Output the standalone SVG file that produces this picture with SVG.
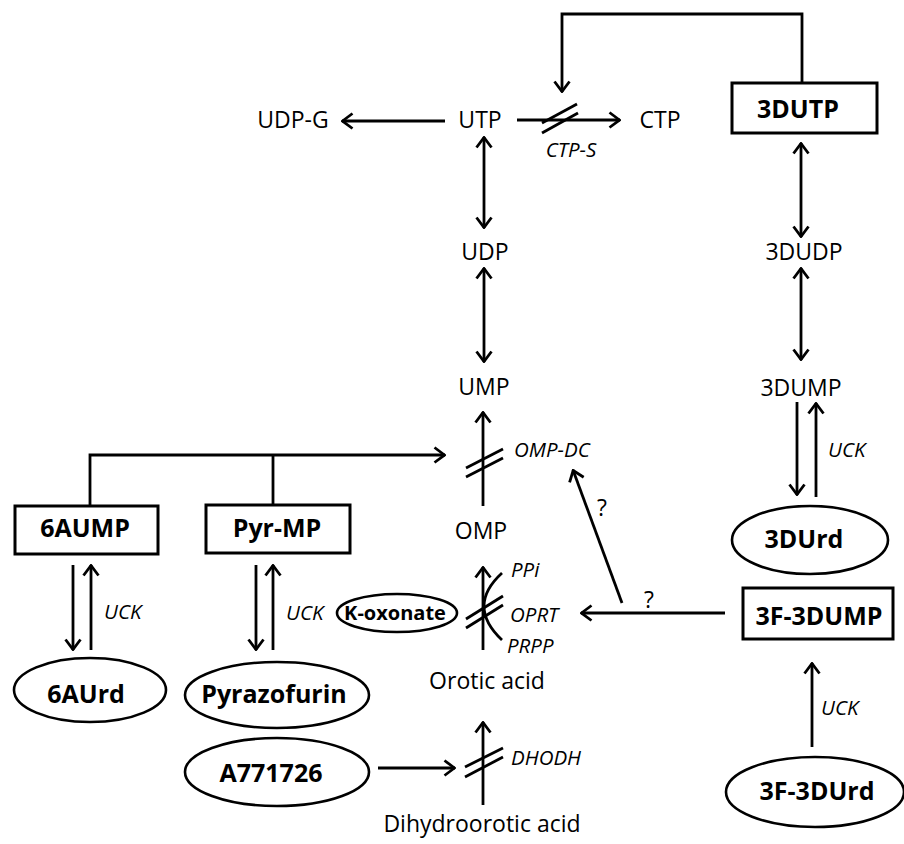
<svg xmlns="http://www.w3.org/2000/svg" width="904" height="844" viewBox="0 0 904 844">
<defs>
<marker id="ah" viewBox="0 0 13 18" refX="12" refY="9" markerWidth="13" markerHeight="18" orient="auto-start-reverse" markerUnits="userSpaceOnUse">
<path d="M1.5,1.5 L11.5,9 L1.5,16.5" fill="none" stroke="#000" stroke-width="2.8" stroke-linejoin="miter"/>
</marker>
</defs>
<style>
text{font-family:"Open Sans","Noto Sans","Liberation Sans",sans-serif;fill:#000}
.t{font-size:23px}
.b{font-size:25px;font-weight:bold}
.i{font-size:20.5px;font-style:italic}
.k{font-size:20px;font-weight:bold}
.m{text-anchor:middle}
.ln{fill:none;stroke:#000;stroke-width:2.8}
.ar{fill:none;stroke:#000;stroke-width:2.8;marker-end:url(#ah)}
.dar{fill:none;stroke:#000;stroke-width:2.8;marker-start:url(#ah);marker-end:url(#ah)}
.bx{fill:#fff;stroke:#000;stroke-width:3}
.el{fill:#fff;stroke:#000;stroke-width:2.6}
</style>
<rect width="904" height="844" fill="#fff"/>
<g id="connectors">
<path class="ar" d="M802,83 V14 H562 V92"/>
<line class="ar" x1="445" y1="121" x2="342" y2="121"/>
<line class="ar" x1="517" y1="120" x2="620" y2="120"/>
<line class="ln" x1="542" y1="123" x2="577" y2="104"/>
<line class="ln" x1="542" y1="133" x2="578" y2="113"/>
<line class="dar" x1="484" y1="137" x2="484" y2="228"/>
<line class="dar" x1="484" y1="268" x2="484" y2="362"/>
<line class="ar" x1="483" y1="506" x2="483" y2="412"/>
<line class="ln" x1="466" y1="468" x2="503" y2="449"/>
<line class="ln" x1="466" y1="477" x2="503" y2="458"/>
<path class="ar" d="M90,506 V455 H445"/>
<line class="ln" x1="273" y1="505" x2="273" y2="455"/>
<line class="ar" x1="73" y1="565" x2="73" y2="650"/>
<line class="ar" x1="91" y1="650" x2="91" y2="565"/>
<line class="ar" x1="256" y1="565" x2="256" y2="650"/>
<line class="ar" x1="273" y1="650" x2="273" y2="565"/>
<line class="ar" x1="483" y1="650" x2="483" y2="567"/>
<line class="ln" x1="466" y1="619" x2="503" y2="596"/>
<line class="ln" x1="466" y1="628" x2="503" y2="605"/>
<path class="ln" d="M502,573 Q466,606 502,640"/>
<line class="ar" x1="725" y1="613" x2="581" y2="613"/>
<line class="ar" x1="622" y1="603" x2="573" y2="470"/>
<line class="dar" x1="801" y1="143" x2="801" y2="237"/>
<line class="dar" x1="801" y1="268" x2="801" y2="360"/>
<line class="ar" x1="797" y1="402" x2="797" y2="495"/>
<line class="ar" x1="816" y1="497" x2="816" y2="403"/>
<line class="ar" x1="812" y1="747" x2="812" y2="663"/>
<line class="ar" x1="378" y1="768" x2="455" y2="768"/>
<line class="ln" x1="465" y1="767" x2="503" y2="748"/>
<line class="ln" x1="465" y1="777" x2="503" y2="757"/>
<line class="ar" x1="483" y1="805" x2="483" y2="722"/>
</g>
<g id="udpg"><text class="t m" x="293" y="128">UDP-G</text></g>
<g id="utp"><text class="t m" x="480" y="128">UTP</text></g>
<g id="ctp"><text class="t m" x="660" y="128">CTP</text></g>
<g id="ctps"><text class="i m" x="571" y="157">CTP-S</text></g>
<g id="n3dutp"><rect class="bx" x="732" y="83" width="145" height="50"/><text class="b m" x="798" y="118">3DUTP</text></g>
<g id="udp"><text class="t m" x="485" y="260">UDP</text></g>
<g id="n3dudp"><text class="t m" x="804" y="260">3DUDP</text></g>
<g id="ump"><text class="t m" x="484" y="395">UMP</text></g>
<g id="n3dump"><text class="t m" x="801" y="396">3DUMP</text></g>
<g id="ompdc"><text class="i" x="514" y="457">OMP-DC</text></g>
<g id="uck1"><text class="i" x="828" y="457">UCK</text></g>
<g id="n6aump"><rect class="bx" x="15" y="506" width="143" height="48"/><text class="b m" x="85" y="537">6AUMP</text></g>
<g id="pyrmp"><rect class="bx" x="206" y="505" width="144" height="48"/><text class="b m" x="277" y="537">Pyr-MP</text></g>
<g id="omp"><text class="t m" x="481" y="539">OMP</text></g>
<g id="n3durd"><ellipse class="el" cx="810" cy="540" rx="78" ry="34"/><text class="b m" x="804" y="548">3DUrd</text></g>
<g id="q1"><text class="t" x="597" y="516">?</text></g>
<g id="q2"><text class="t" x="644" y="608">?</text></g>
<g id="ppi"><text class="i" x="511" y="577">PPi</text></g>
<g id="oprt"><text class="i" x="510" y="622">OPRT</text></g>
<g id="prpp"><text class="i" x="507" y="653">PRPP</text></g>
<g id="koxonate"><ellipse class="el" cx="397" cy="613" rx="60" ry="19"/><text class="k m" x="395" y="620">K-oxonate</text></g>
<g id="uck2"><text class="i" x="104" y="619">UCK</text></g>
<g id="uck3"><text class="i" x="286" y="620">UCK</text></g>
<g id="n3f3dump"><rect class="bx" x="743" y="588" width="150" height="51"/><text class="b m" x="819" y="625">3F-3DUMP</text></g>
<g id="n6aurd"><ellipse class="el" cx="90" cy="690" rx="76" ry="32"/><text class="b m" x="86" y="703">6AUrd</text></g>
<g id="pyrazofurin"><ellipse class="el" cx="277" cy="695" rx="92" ry="33"/><text class="b m" x="274" y="703">Pyrazofurin</text></g>
<g id="orotic"><text class="t m" x="487" y="689">Orotic acid</text></g>
<g id="uck4"><text class="i" x="821" y="715">UCK</text></g>
<g id="a771726"><ellipse class="el" cx="277" cy="772" rx="92" ry="34"/><text class="b m" x="271" y="782">A771726</text></g>
<g id="dhodh"><text class="i" x="511" y="765">DHODH</text></g>
<g id="n3f3durd"><ellipse class="el" cx="815" cy="792" rx="89" ry="35"/><text class="b m" x="817" y="800">3F-3DUrd</text></g>
<g id="dihydro"><text class="t m" x="482" y="832">Dihydroorotic acid</text></g>
</svg>
